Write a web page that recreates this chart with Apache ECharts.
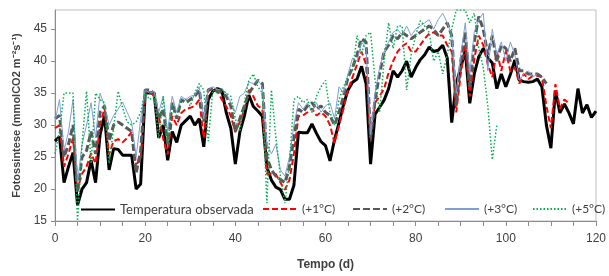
<!DOCTYPE html>
<html>
<head>
<meta charset="utf-8">
<script src="https://cdn.jsdelivr.net/npm/echarts@6/dist/echarts.min.js"></script>
<style>
html, body { margin: 0; padding: 0; background: #fff; }
#chart { width: 609px; height: 276px; }
</style>
</head>
<body>
<div id="chart"></div>
<script>
// dias 0..N, um valor por dia
var obs = [27.5, 28.2, 21, 23.5, 25.7, 17.5, 20, 21, 24.5, 21,
    28.5, 31.5, 23, 26.3, 26.2, 25.3, 25.3, 25.3, 20, 20.8,
    35, 35, 35, 28, 30, 24.5, 29, 27.3, 30, 30.7,
    31.4, 30, 31, 26.6, 34, 35.3, 35.7, 35.5, 31.9, 29.5,
    23.9, 28.9, 31.4, 34.7, 32.9, 32.2, 31.4, 23.4, 21.4, 20.3,
    19.9, 18.4, 18.4, 20.6, 28.9, 28.8, 28.8, 30.2, 28.7, 27.4,
    26.8, 24.4, 27.7, 30.4, 33.2, 35.5, 36.7, 37.2, 39.2, 36.5,
    23.9, 31.7, 32.8, 33.9, 35.7, 38.5, 37.5, 38.5, 40, 37.5,
    39, 40.2, 41, 42.2, 41.5, 41.7, 42.5, 40.5, 30.4, 36.5,
    39, 41.7, 33.4, 38, 40.7, 42, 40.5, 39.7, 35.7, 38,
    36, 37.9, 40.2, 37, 36.8, 36.7, 36.8, 37.2, 36, 30,
    26.4, 35.4, 31.9, 33.3, 31.9, 30.2, 35.7, 31.9, 33.2, 31.2, 32.2];

var plus1 = [29.5, 30, 23.5, 25.5, 28, 20, 22.4, 23.5, 25.6, 24,
    30, 32.7, 25.4, 27.5, 27.8, 27.3, 28, 28.9, 23.9, 24.5,
    35, 35.3, 34.5, 31.4, 27.9, 25.4, 31.4, 30, 31.9, 32.5,
    32.7, 33, 34, 28, 35.5, 35.5, 35.3, 34, 32.9, 31.4,
    28.9, 30.5, 32.4, 35.5, 34.5, 33, 32.5, 22.4, 22.4, 22.3,
    21, 19.9, 21.4, 25.5, 31.4, 31.5, 32, 32.6, 31.5, 32,
    31.4, 30, 27.2, 30, 32.6, 35.5, 37.5, 39.5, 41.5, 39.5,
    27.9, 33.5, 34.5, 35.7, 38.2, 40, 41.5, 42.3, 42.8, 41.5,
    41.5, 42.5, 43.5, 44.3, 44.5, 44, 44, 42.5, 41.5, 32,
    38, 42.5, 34.5, 40.3, 44, 42.5, 39.5, 37.5, 41.5, 38.5,
    41.5, 38.4, 39, 36.5, 38, 37.2, 37.7, 37.7, 37.5, 33,
    29.5, 36.4, 32.6, 34, 33.4];

var plus2 = [31, 31.5, 25, 27, 30, 19.5, 25, 26, 29, 25.5,
    32, 33, 27.5, 30, 30.5, 30, 29.5, 29, 22.5, 26,
    35.5, 35.5, 35, 31, 32.5, 27, 33.5, 31, 34, 33.5,
    34, 34.5, 35.5, 30.5, 35.5, 35.8, 35.5, 35, 34.5, 33,
    29, 31, 33, 35, 36, 37, 36.5, 25, 23, 22,
    21.5, 21, 23.5, 28, 32.5, 32, 33, 33.5, 32.5, 33,
    32, 31.5, 30, 32, 34.5, 37.5, 39, 41, 43.5, 43,
    28, 34, 38, 41.5, 42.5, 44, 43.5, 44.5, 44, 43.5,
    44, 44.5, 45, 45.5, 45, 44, 45, 46, 44, 33,
    40, 44.5, 36, 43, 47, 45, 41, 44, 40, 42.5,
    42, 40, 42, 38.5, 38.5, 38, 38, 38, 37.5, 36.5];

var plus3 = [30.5, 34, 26, 29, 34, 21, 27, 30, 33.5, 28,
    35, 33, 30, 31.5, 32.5, 33.6, 32, 30.5, 25, 31,
    35.5, 35, 35.3, 32, 34.5, 29, 34.5, 32, 34.5, 34,
    34.5, 34.7, 36, 31, 35.5, 36, 35.5, 35.7, 35, 33.5,
    32, 34.5, 35, 36.7, 36.5, 37, 36, 27, 25.5, 27,
    23, 22, 25, 30, 33.5, 32.5, 33.5, 32, 33.5, 32,
    33, 33.5, 31, 36, 35, 38, 40.5, 40, 43, 42,
    28.5, 35, 39, 41.5, 43, 44.5, 45, 44, 45.5, 44,
    45, 45.5, 46, 46.5, 45, 46.5, 47.5, 46, 44, 35,
    41, 46, 38, 44.5, 46.5, 47.5, 38.5, 45, 41, 43,
    40, 43, 41, 37, 38, 38.5, 37.5, 38];

var plus5 = [25.5, 29, 35, 35, 35, 15, 27, 35.3, 24, 35,
    34, 33.5, 24, 29.5, 35.3, 32.7, 30.5, 30, 30.5, 32,
    35, 34, 34.5, 28, 34.5, 27, 33, 31.5, 34, 34,
    33, 35, 36.5, 35.5, 27.5, 35.5, 35, 35.5, 35, 34.5,
    31, 29, 33.5, 37, 38, 36, 35, 17.8, 35.5, 28,
    22, 17.8, 24, 34, 34.5, 33.5, 34, 32, 34.5, 36,
    37, 32, 30, 34, 36, 37.5, 38.5, 44, 41, 44,
    44.5, 37, 32, 40, 46, 42, 45.5, 45.5, 35.5, 41,
    44, 46.3, 45.5, 44.5, 40, 41.5, 38, 41, 45, 48,
    48, 48, 46, 47.5, 42, 39, 33, 24.6, 30];

var seriesNames = ["Temperatura observada", "(+1°C)", "(+2°C)", "(+3°C)", "(+5°C)"];
var legendLeft = [80, 262, 352, 444, 532];

var textColor = "#404040";
var axisColor = "#8c8c8c";

function pairs(values) {
    return values.map(function (v, i) { return [i, v]; });
}

function lineSeries(name, values, color, width, type) {
    return {
        name: name,
        type: "line",
        data: pairs(values),
        symbol: "none",
        lineStyle: { color: color, width: width, type: type },
        itemStyle: { color: color }
    };
}

var chart = echarts.init(document.getElementById("chart"));
chart.setOption({
    animation: false,
    textStyle: { fontFamily: "Liberation Sans" },
    grid: {
        left: 55, right: 10, top: 10, bottom: 47,
        show: true, borderColor: "#bfbfbf", borderWidth: 1
    },
    legend: seriesNames.map(function (name, i) {
        return {
            data: [name],
            left: legendLeft[i],
            top: 203,
            padding: 0,
            itemWidth: 34,
            itemHeight: 14,
            itemGap: 0,
            selectedMode: false,
            itemStyle: { opacity: 0 },
            textStyle: { color: textColor, fontSize: i === 0 ? 13 : 12, fontFamily: "Lato" }
        };
    }),
    xAxis: {
        type: "value",
        min: 0, max: 120, interval: 20,
        name: "Tempo (d)",
        nameLocation: "middle",
        nameGap: 38,
        nameTextStyle: { color: textColor, fontWeight: "bold", fontSize: 12 },
        axisLine: { lineStyle: { color: axisColor } },
        axisTick: { length: 5, lineStyle: { color: axisColor } },
        minorTick: { show: true, splitNumber: 4, length: 5, lineStyle: { color: axisColor } },
        axisLabel: { color: textColor, fontSize: 12, margin: 12 },
        splitLine: { show: false }
    },
    yAxis: {
        type: "value",
        min: 15, max: 48, interval: 5,
        name: "Fotossintese (mmolCO2 m⁻²s⁻¹)",
        nameLocation: "middle",
        nameGap: 27,
        nameTextStyle: { color: textColor, fontWeight: "bold", fontSize: 11 },
        axisLine: { show: true, lineStyle: { color: axisColor } },
        axisTick: { show: true, length: 4, lineStyle: { color: axisColor } },
        axisLabel: { color: textColor, fontSize: 12, margin: 8, showMaxLabel: false },
        splitLine: { show: false }
    },
    series: [
        lineSeries(seriesNames[0], obs, "#000000", 3, "solid"),
        lineSeries(seriesNames[1], plus1, "#ff0000", 2, [6, 3]),
        lineSeries(seriesNames[2], plus2, "#595959", 3, [7, 3]),
        lineSeries(seriesNames[3], plus3, "#7f9fd4", 1, "solid"),
        lineSeries(seriesNames[4], plus5, "#00b050", 1.5, [1.5, 2])
    ]
});
</script>
</body>
</html>
